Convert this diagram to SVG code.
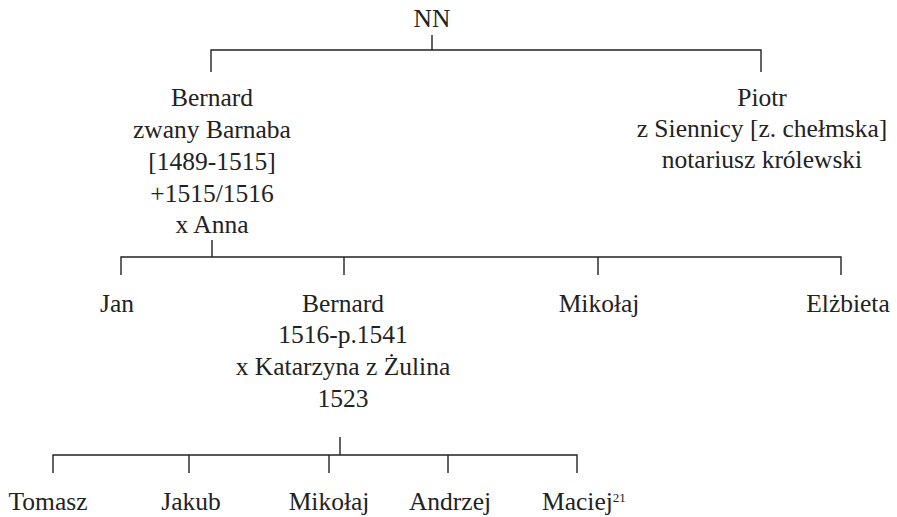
<svg xmlns="http://www.w3.org/2000/svg" width="897" height="517" viewBox="0 0 897 517">
<style>
text{font-family:"Liberation Serif","DejaVu Serif","Times New Roman",serif;font-size:25.5px;fill:#222;text-anchor:middle}
.c{fill:none;stroke:#222;stroke-width:1.4}
</style>
<rect width="897" height="517" fill="#fff"/>
<g id="connectors" class="c">
<path d="M432 35V50M211 72V50H761V72"/>
<path d="M212 240V257M121 275V257H841V275M344 257V275M598 257V275"/>
<path d="M340 437V455M53 473V455H577V473M189 455V473M329 455V473M448 455V473"/>
</g>
<g id="nn"><text x="432" y="27">NN</text></g>
<g id="bernard1"><text x="212" y="106">Bernard</text><text x="212" y="138">zwany Barnaba</text><text x="212" y="170">[1489-1515]</text><text x="212" y="202">+1515/1516</text><text x="212" y="233">x Anna</text></g>
<g id="piotr"><text x="762" y="106">Piotr</text><text x="762" y="137">z Siennicy [z. chełmska]</text><text x="762" y="168">notariusz królewski</text></g>
<g id="jan"><text x="117" y="312">Jan</text></g>
<g id="bernard2"><text x="343" y="312">Bernard</text><text x="343" y="343">1516-p.1541</text><text x="343" y="375">x Katarzyna z Żulina</text><text x="343" y="407">1523</text></g>
<g id="mikolaj1"><text x="599" y="312">Mikołaj</text></g>
<g id="elzbieta"><text x="848" y="312">Elżbieta</text></g>
<g id="tomasz"><text x="48" y="510">Tomasz</text></g>
<g id="jakub"><text x="191" y="510">Jakub</text></g>
<g id="mikolaj2"><text x="329" y="510">Mikołaj</text></g>
<g id="andrzej"><text x="450" y="510">Andrzej</text></g>
<g id="maciej"><text x="542" y="510" style="text-anchor:start">Maciej<tspan font-size="13" dy="-8">21</tspan></text></g>
</svg>
